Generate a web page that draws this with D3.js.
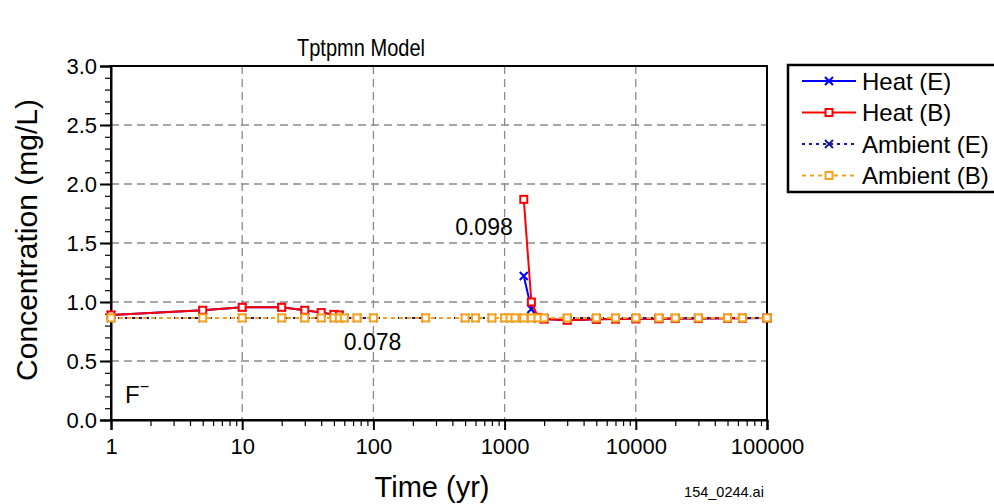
<!DOCTYPE html>
<html>
<head>
<meta charset="utf-8">
<script src="https://cdn.jsdelivr.net/npm/d3@7"></script>
<style>
  html, body { margin: 0; padding: 0; background: #fff; }
  svg { display: block; font-family: "Liberation Sans", Arial, sans-serif; }
</style>
</head>
<body>
<svg id="chart" width="994" height="504"></svg>
<script>
// ---- data ----
const times = [1, 5, 10, 20, 30, 40, 50, 55, 60, 75, 100, 250, 500, 600, 800, 1000, 1100, 1200,
  1400, 1600, 1800, 2000, 3000, 5000, 7000, 10000, 15000, 20000, 30000, 50000, 65000, 100000];
const heatE = [0.89, 0.93, 0.955, 0.955, 0.93, 0.91, 0.895, 0.89,
  null, null, null, null, null, null, null, null, null, null,
  1.22, 0.94, 0.86, 0.855, 0.845, 0.853, 0.855, 0.857, 0.858, 0.86, 0.86, 0.862, 0.863, 0.864];
const heatB = [0.89, 0.93, 0.955, 0.955, 0.93, 0.91, 0.895, 0.89,
  null, null, null, null, null, null, null, null, null, null,
  1.87, 1.0, 0.87, 0.855, 0.845, 0.853, 0.855, 0.857, 0.858, 0.86, 0.86, 0.862, 0.863, 0.864];
const ambientE = [0.865, 0.865, 0.865, 0.865, 0.865, 0.865, 0.865, 0.865, 0.865, 0.865, 0.865,
  0.865, 0.865, 0.865, 0.865, 0.865, 0.865, 0.865, 0.865, 0.865, 0.865, 0.865, 0.865, 0.865,
  0.865, 0.865, 0.865, 0.865, 0.865, 0.865, 0.865, 0.865];
const ambientB = [0.865, 0.865, 0.865, 0.865, 0.865, 0.865, 0.865, 0.865, 0.865, 0.865, 0.865,
  0.865, 0.865, 0.865, 0.865, 0.865, 0.865, 0.865, 0.865, 0.865, 0.865, 0.865, 0.865, 0.865,
  0.865, 0.865, 0.865, 0.865, 0.865, 0.865, 0.865, 0.865];
const seriesNames = ["Heat (E)", "Heat (B)", "Ambient (E)", "Ambient (B)"];
const xTickValues = [1, 10, 100, 1000, 10000, 100000];
const yTickValues = [0.0, 0.5, 1.0, 1.5, 2.0, 2.5, 3.0];
const annotations = [{ text: "0.098", t: 420, v: 1.572 }, { text: "0.078", t: 59.5, v: 0.595 }];

// ---- layout ----
const svg = d3.select("#chart");
const L = 111, R = 767, T = 66, B = 420;
const x = d3.scaleLog().domain([1, 100000]).range([L, R]);
const y = d3.scaleLinear().domain([0, 3]).range([B, T]);

const styles = [
  { color: "#0000ff", dash: null, marker: "x" },
  { color: "#ff0000", dash: null, marker: "sq" },
  { color: "#1a1a8f", dash: "3,4", marker: "x" },
  { color: "#f7a21b", dash: "4,4", marker: "sq" }
];
const allSeries = [heatE, heatB, ambientE, ambientB];

// grid
const grid = svg.append("g");
[10, 100, 1000, 10000].forEach(t => {
  grid.append("line").attr("x1", x(t)).attr("x2", x(t)).attr("y1", T).attr("y2", B)
    .attr("stroke", "#8a8a8a").attr("stroke-width", 1.3).attr("stroke-dasharray", "8,5");
});
[0.5, 1.0, 1.5, 2.0, 2.5].forEach(v => {
  grid.append("line").attr("x1", L).attr("x2", R).attr("y1", y(v)).attr("y2", y(v))
    .attr("stroke", "#8a8a8a").attr("stroke-width", 1.3).attr("stroke-dasharray", "8,5");
});

// frame
svg.append("rect").attr("x", L).attr("y", T).attr("width", R - L).attr("height", B - T)
  .attr("fill", "none").attr("stroke", "#000").attr("stroke-width", 2);

// axes
const minorX = [];
for (let d = 1; d < 100000; d *= 10) for (let k = 2; k <= 9; k++) minorX.push(d * k);
const xAxisG = svg.append("g").attr("transform", `translate(0,${B})`);
xAxisG.call(d3.axisBottom(x).tickValues(minorX).tickSize(6).tickFormat(""));
xAxisG.call(g => g.select(".domain").remove());
xAxisG.selectAll("line").attr("stroke", "#000").attr("stroke-width", 1.2);
const xMajor = svg.append("g").attr("transform", `translate(0,${B})`)
  .call(d3.axisBottom(x).tickValues(xTickValues).tickSize(10).tickPadding(8).tickFormat(d3.format("d")));
xMajor.select(".domain").attr("stroke-width", 2);
xMajor.selectAll("line").attr("stroke", "#000").attr("stroke-width", 2);
xMajor.selectAll("text").attr("font-size", 22).attr("fill", "#000")
  .attr("font-family", "Liberation Sans, Arial, sans-serif");

const minorY = d3.range(0, 31).map(i => i / 10);
const yMinorG = svg.append("g").attr("transform", `translate(${L},0)`)
  .call(d3.axisLeft(y).tickValues(minorY).tickSize(6).tickFormat(""));
yMinorG.select(".domain").remove();
yMinorG.selectAll("line").attr("stroke", "#000").attr("stroke-width", 1.2);
const yMajor = svg.append("g").attr("transform", `translate(${L},0)`)
  .call(d3.axisLeft(y).tickValues(yTickValues).tickSize(11).tickPadding(3).tickFormat(d3.format(".1f")));
yMajor.select(".domain").attr("stroke-width", 2);
yMajor.selectAll("line").attr("stroke", "#000").attr("stroke-width", 2);
yMajor.selectAll("text").attr("font-size", 22).attr("fill", "#000")
  .attr("font-family", "Liberation Sans, Arial, sans-serif");

// series
function drawMarker(g, type, color, cx, cy) {
  if (type === "x") {
    g.append("path").attr("d", `M${cx - 4},${cy - 4}L${cx + 4},${cy + 4}M${cx - 4},${cy + 4}L${cx + 4},${cy - 4}`)
      .attr("stroke", color).attr("stroke-width", 2).attr("fill", "none");
  } else {
    g.append("rect").attr("x", cx - 3.5).attr("y", cy - 3.5).attr("width", 7).attr("height", 7)
      .attr("fill", "#fff").attr("stroke", color).attr("stroke-width", 2);
  }
}
const line = d3.line().defined(d => d[1] !== null).x(d => x(d[0])).y(d => y(d[1]));
const plotG = svg.append("g");
allSeries.forEach((vals, i) => {
  const st = styles[i];
  const pts = times.map((t, j) => [t, vals[j]]);
  const g = plotG.append("g");
  g.append("path").datum(pts).attr("d", line).attr("fill", "none")
    .attr("stroke", st.color).attr("stroke-width", 2)
    .attr("stroke-dasharray", st.dash);
  pts.filter(d => d[1] !== null).forEach(d => drawMarker(g, st.marker, st.color, x(d[0]), y(d[1])));
});

// annotations
annotations.forEach(a => {
  svg.append("text").attr("x", x(a.t)).attr("y", y(a.v)).attr("font-size", 23).attr("fill", "#000")
    .text(a.text);
});
const fl = svg.append("text").attr("x", 125).attr("y", 403).attr("font-size", 24).attr("fill", "#000");
fl.append("tspan").text("F");
fl.append("tspan").attr("dy", -11).attr("font-size", 16).text("\u2212");

// titles
svg.append("text").attr("x", 361).attr("y", 56).attr("text-anchor", "middle")
  .attr("font-size", 24).attr("fill", "#000")
  .attr("textLength", 128).attr("lengthAdjust", "spacingAndGlyphs").text("Tptpmn Model");
svg.append("text").attr("x", 432).attr("y", 497).attr("text-anchor", "middle")
  .attr("font-size", 29).attr("fill", "#000").text("Time (yr)");
svg.append("text").attr("transform", "translate(37,240) rotate(-90)").attr("text-anchor", "middle")
  .attr("font-size", 30).attr("fill", "#000").text("Concentration (mg/L)");
svg.append("text").attr("x", 724).attr("y", 497).attr("text-anchor", "middle")
  .attr("font-size", 14.5).attr("fill", "#000").text("154_0244.ai");

// legend
const lg = svg.append("g");
lg.append("rect").attr("x", 788).attr("y", 65).attr("width", 210).attr("height", 127)
  .attr("fill", "#fff").attr("stroke", "#000").attr("stroke-width", 2.5);
seriesNames.forEach((name, i) => {
  const st = styles[i];
  const cy = 81 + i * 31.5;
  lg.append("line").attr("x1", 802).attr("x2", 856).attr("y1", cy).attr("y2", cy)
    .attr("stroke", st.color).attr("stroke-width", 2).attr("stroke-dasharray", st.dash);
  drawMarker(lg, st.marker, st.color, 829, cy);
  lg.append("text").attr("x", 862).attr("y", cy + 8.5).attr("font-size", 24).attr("fill", "#000").text(name);
});
</script>
</body>
</html>
